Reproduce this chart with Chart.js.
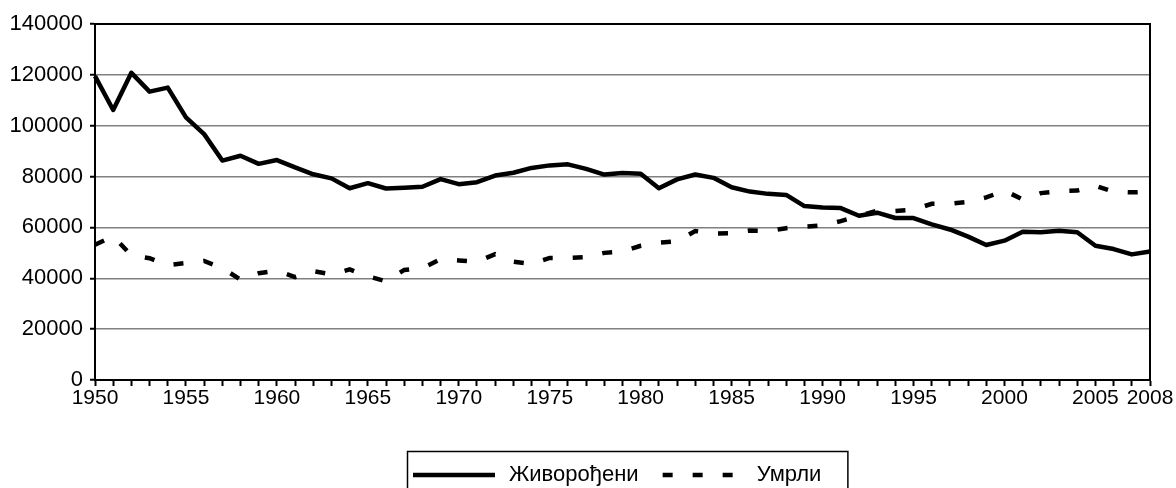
<!DOCTYPE html>
<html>
<head>
<meta charset="utf-8">
<script src="https://cdn.jsdelivr.net/npm/chart.js@4/dist/chart.umd.min.js"></script>
<style>
  html, body { margin: 0; padding: 0; background: #ffffff; }
  #wrap { width: 1176px; height: 488px; }
</style>
</head>
<body>
<div id="wrap"><canvas id="birthsChart" width="1176" height="488"></canvas></div>
<script>
// Years on the x axis
const years = [
    1950, 1951, 1952, 1953, 1954, 1955, 1956, 1957, 1958, 1959,
    1960, 1961, 1962, 1963, 1964, 1965, 1966, 1967, 1968, 1969,
    1970, 1971, 1972, 1973, 1974, 1975, 1976, 1977, 1978, 1979,
    1980, 1981, 1982, 1983, 1984, 1985, 1986, 1987, 1988, 1989,
    1990, 1991, 1992, 1993, 1994, 1995, 1996, 1997, 1998, 1999,
    2000, 2001, 2002, 2003, 2004, 2005, 2006, 2007, 2008
];

// Years that get a printed label
const labelledYears = [1950, 1955, 1960, 1965, 1970, 1975, 1980, 1985, 1990, 1995, 2000, 2005, 2008];

// Live births
const zivorodjeni = [
    119500, 106200, 120800, 113400, 115000, 103300, 96700, 86300, 88200, 85000,
    86500, 83600, 80900, 79300, 75400, 77400, 75300, 75600, 76000, 79000,
    77000, 77800, 80400, 81500, 83400, 84400, 84800, 83000, 80800, 81400,
    81100, 75400, 78900, 80800, 79500, 75800, 74100, 73200, 72800, 68400,
    67800, 67600, 64600, 65800, 63700, 63700, 61200, 59200, 56400, 53100,
    54800, 58300, 58100, 58700, 58100, 52800, 51500, 49400, 50500
];

// Deaths
const umrli = [
    53200, 56500, 49000, 47900, 45200, 46000, 46800, 44000, 39500, 42000,
    43000, 40500, 42800, 41500, 43500, 40800, 38800, 43300, 44000, 47500,
    47000, 46500, 49500, 46500, 45600, 48000, 48000, 48300, 50000, 50500,
    52800, 54000, 54500, 58600, 57600, 57700, 58800, 58600, 59700, 60300,
    60800, 62500, 64500, 66600, 66500, 67000, 69300, 69300, 70000, 71800,
    74500, 71000, 73500, 74300, 74500, 76400, 74000, 73800, 74000
];

const seriesNames = ['Живорођени', 'Умрли'];

const FONT = 'Liberation Sans, Arial, sans-serif';

// Frame on the top and right of the plot, plus the boxed legend underneath
const framePlugin = {
    id: 'frame',
    afterDraw(chart) {
        const ctx = chart.ctx;
        const a = chart.chartArea;
        ctx.save();
        ctx.strokeStyle = '#000000';
        ctx.lineWidth = 2;
        ctx.beginPath();
        ctx.moveTo(a.left, a.top);
        ctx.lineTo(a.right, a.top);
        ctx.lineTo(a.right, a.bottom);
        ctx.stroke();

        // legend
        ctx.font = '22px ' + FONT;
        const datasets = chart.data.datasets;
        const sampleW = [82, 70];
        const textW = datasets.map(d => ctx.measureText(d.label).width);
        const total = 6 + sampleW[0] + 14 + textW[0] + 24 + sampleW[1] + 24 + textW[1] + 26;
        const boxLeft = Math.round((a.left + a.right) / 2 + 5 - total / 2);
        const boxTop = 451;
        const midY = 475;

        ctx.lineWidth = 1.5;
        ctx.strokeRect(boxLeft + 0.5, boxTop + 0.5, total, 50);

        let x = boxLeft + 6;
        datasets.forEach((d, i) => {
            ctx.save();
            ctx.lineWidth = d.borderWidth;
            ctx.setLineDash(d.borderDash || []);
            ctx.lineCap = 'butt';
            ctx.beginPath();
            ctx.moveTo(x, midY);
            ctx.lineTo(x + sampleW[i], midY);
            ctx.stroke();
            ctx.restore();
            x += sampleW[i] + (i === 0 ? 14 : 24);
            ctx.fillStyle = '#000000';
            ctx.textBaseline = 'middle';
            ctx.textAlign = 'left';
            ctx.fillText(d.label, x, midY);
            x += textW[i] + 24;
        });
        ctx.restore();
    }
};

new Chart(document.getElementById('birthsChart'), {
    type: 'line',
    data: {
        labels: years,
        datasets: [{
            label: seriesNames[0],
            data: zivorodjeni,
            borderColor: '#000000',
            backgroundColor: '#000000',
            borderWidth: 4.5,
            pointRadius: 0,
            tension: 0,
            borderJoinStyle: 'round'
        }, {
            label: seriesNames[1],
            data: umrli,
            borderColor: '#000000',
            backgroundColor: '#000000',
            borderWidth: 4.5,
            borderDash: [10, 20],
            pointRadius: 0,
            tension: 0
        }]
    },
    options: {
        responsive: false,
        animation: false,
        layout: {
            padding: { top: 24, right: 26, left: 0, bottom: 78 }
        },
        scales: {
            x: {
                offset: false,
                border: { display: true, color: '#000000', width: 2 },
                grid: {
                    drawOnChartArea: false,
                    drawTicks: true,
                    tickLength: 6,
                    tickColor: '#000000',
                    tickWidth: 2
                },
                ticks: {
                    autoSkip: false,
                    maxRotation: 0,
                    minRotation: 0,
                    padding: 0,
                    color: '#000000',
                    font: { family: FONT, size: 21 },
                    callback: function(value, index) {
                        const y = years[index];
                        return labelledYears.includes(y) ? String(y) : '';
                    }
                },
                afterFit: function(scale) {
                    scale.height = 30;
                }
            },
            y: {
                min: 0,
                max: 140000,
                border: { display: true, color: '#000000', width: 2 },
                grid: {
                    color: (ctx) => (ctx.tick && ctx.tick.value % 20000 === 0) ? '#808080' : 'rgba(0,0,0,0)',
                    lineWidth: 1.5,
                    tickColor: '#000000',
                    tickWidth: 2,
                    tickLength: 5
                },
                ticks: {
                    stepSize: 10000,
                    padding: 7,
                    color: '#000000',
                    font: { family: FONT, size: 22 },
                    callback: function(value) {
                        return value % 20000 === 0 ? String(value) : '';
                    }
                },
                afterFit: function(scale) {
                    scale.width = 95;
                }
            }
        },
        plugins: {
            legend: { display: false },
            tooltip: { enabled: false }
        }
    },
    plugins: [framePlugin]
});
</script>
</body>
</html>
